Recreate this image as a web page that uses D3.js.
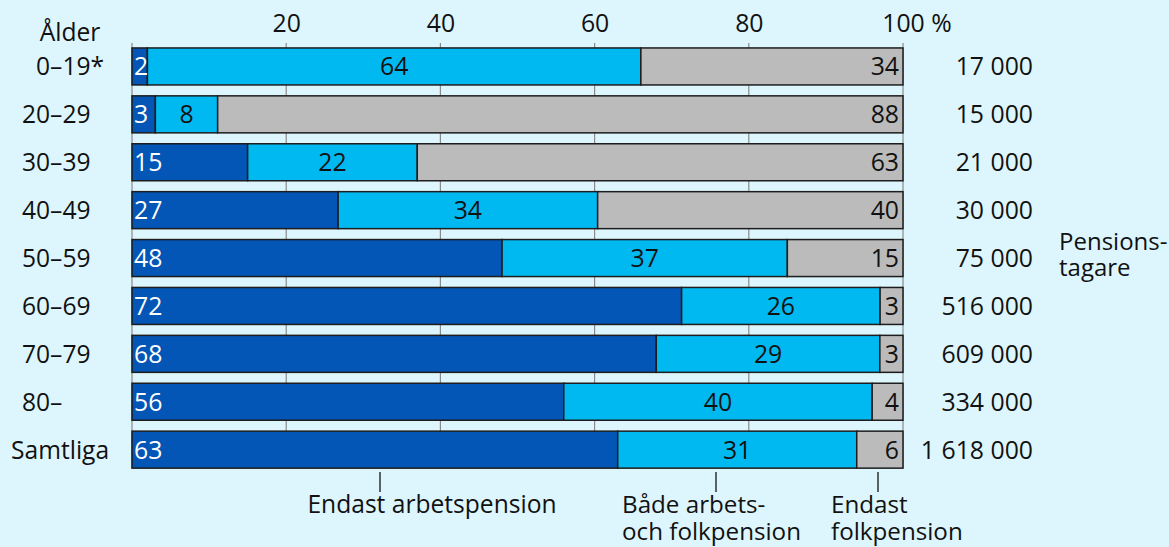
<!DOCTYPE html>
<html><head><meta charset="utf-8">
<script src="https://cdn.jsdelivr.net/npm/d3@7"></script>
<style>
html,body{margin:0;padding:0;background:#ddf6fd;}
svg{display:block;font-family:"Open Sans",sans-serif;}
</style></head>
<body>
<svg id="c" width="1169" height="547"></svg>
<script>
const ages = ["0–19*","20–29","30–39","40–49","50–59","60–69","70–79","80–","Samtliga"];
const onlyWork = [2,3,15,27,48,72,68,56,63];
const both = [64,8,22,34,37,26,29,40,31];
const onlyFolk = [34,88,63,40,15,3,3,4,6];
const pensioners = [17000,15000,21000,30000,75000,516000,609000,334000,1618000];
const tickValues = [20,40,60,80,100];
const seriesKeys = ["onlyWork","both","onlyFolk"];
const seriesLabels = ["Endast arbetspension",["Både arbets-","och folkpension"],["Endast","folkpension"]];
const colors = {onlyWork:"#0356b5", both:"#00b9f1", onlyFolk:"#bbbbbb"};

const FS = 24.6;   // words
const FN = 24.8;   // numbers
const svg = d3.select("#c");
const rows = ages.map((a,i)=>({age:a, onlyWork:onlyWork[i], both:both[i], onlyFolk:onlyFolk[i], n:pensioners[i]}));
const stack = d3.stack().keys(seriesKeys).offset(d3.stackOffsetExpand)(rows);

const x = d3.scaleLinear().domain([0,100]).range([132,903]);
const y = d3.scaleBand().domain(ages).range([42.5,473.6]).paddingInner(0.2276).paddingOuter(0.1138);
const base = d => y(d)+y.bandwidth()/2+9;

// gridlines
const gTop = 43, gBot = y(ages[ages.length-1]) + y.bandwidth();
svg.append("g").selectAll("line").data([0].concat(tickValues)).join("line")
  .attr("x1",d=>x(d)).attr("x2",d=>x(d)).attr("y1",gTop).attr("y2",gBot)
  .attr("stroke","#8a8a8a").attr("stroke-width",1.2);

// top axis labels
const ax = svg.append("g").attr("transform","translate(0,32)")
  .call(d3.axisTop(x).tickValues(tickValues).tickSize(0).tickFormat(d=>d));
ax.select(".domain").remove();
ax.selectAll("text").attr("font-size",FN).attr("fill","#111").attr("font-family","Open Sans").attr("dy",0).attr("y",0);
ax.selectAll(".tick").filter(d=>d===100).select("text").each(function(){
  const w = this.getComputedTextLength();
  d3.select(this).attr("text-anchor","start").attr("x",-w/2).text("100 %");
});

// age header
svg.append("text").attr("x",70).attr("y",41).attr("text-anchor","middle")
  .attr("font-size",FS).attr("fill","#111").text("Ålder");

// bars
const bars = svg.append("g");
stack.forEach((s)=>{
  bars.append("g").selectAll("rect").data(s).join("rect")
    .attr("x",d=>x(d[0]*100)).attr("width",d=>x(d[1]*100)-x(d[0]*100))
    .attr("y",d=>y(d.data.age)).attr("height",y.bandwidth())
    .attr("fill",colors[s.key]).attr("stroke","#1d1d1d").attr("stroke-width",1.5);
});
// segment labels
const lab = svg.append("g").attr("font-size",FN);
stack.forEach((s,si)=>{
  lab.append("g").selectAll("text").data(s).join("text")
    .attr("x",d=> si===0 ? x(d[0]*100)+2 : si===1 ? (x(d[0]*100)+x(d[1]*100))/2 : x(d[1]*100)-4)
    .attr("text-anchor", si===0?"start":si===1?"middle":"end")
    .attr("y",d=>base(d.data.age))
    .attr("fill", si===0?"#ffffff":"#111")
    .text(d=>d.data[s.key]);
});

// age labels (aligned on the dash)
const ageG = svg.append("g").attr("font-size",FS).attr("fill","#111");
ageG.selectAll("text").data(ages).join("text")
  .attr("y",d=>base(d))
  .attr("x",22)
  .text(d=>d)
  .each(function(d){
    const t = d3.select(this);
    if(d==="Samtliga"){ t.attr("x",11); }
    else {
      const idx = d.indexOf("–");
      if(idx===1){
        const tmp = ageG.append("text").text("0").attr("font-size",FS);
        const w = tmp.node().getComputedTextLength(); tmp.remove();
        t.attr("x",22+w);
      }
    }
  });

// pensioners counts
const fmt = v => d3.format(",")(v).replace(/,/g," ");
svg.append("g").attr("font-size",FN).attr("fill","#111").selectAll("text").data(rows).join("text")
  .attr("x",1033).attr("text-anchor","end")
  .attr("y",d=>base(d.age))
  .text(d=>fmt(d.n));
const pt = svg.append("text").attr("font-size",24).attr("fill","#111");
pt.append("tspan").attr("x",1059).attr("y",250).text("Pensions-");
pt.append("tspan").attr("x",1059).attr("y",276).text("tagare");

// bottom legend annotations
const tickXs = [380, 716, 878];
const labelXs = [{x:432,anchor:"middle"},{x:622,anchor:"start"},{x:831,anchor:"start"}];
seriesKeys.forEach((k,i)=>{
  svg.append("line").attr("x1",tickXs[i]).attr("x2",tickXs[i]).attr("y1",472).attr("y2",492)
    .attr("stroke","#111").attr("stroke-width",1.3);
  const lines = Array.isArray(seriesLabels[i])?seriesLabels[i]:[seriesLabels[i]];
  const t = svg.append("text").attr("font-size",lines.length>1?24.2:FS).attr("fill","#111").attr("text-anchor",labelXs[i].anchor);
  lines.forEach((l,j)=>t.append("tspan").attr("x",labelXs[i].x).attr("y",513+j*27).text(l));
});
</script>
</body></html>
